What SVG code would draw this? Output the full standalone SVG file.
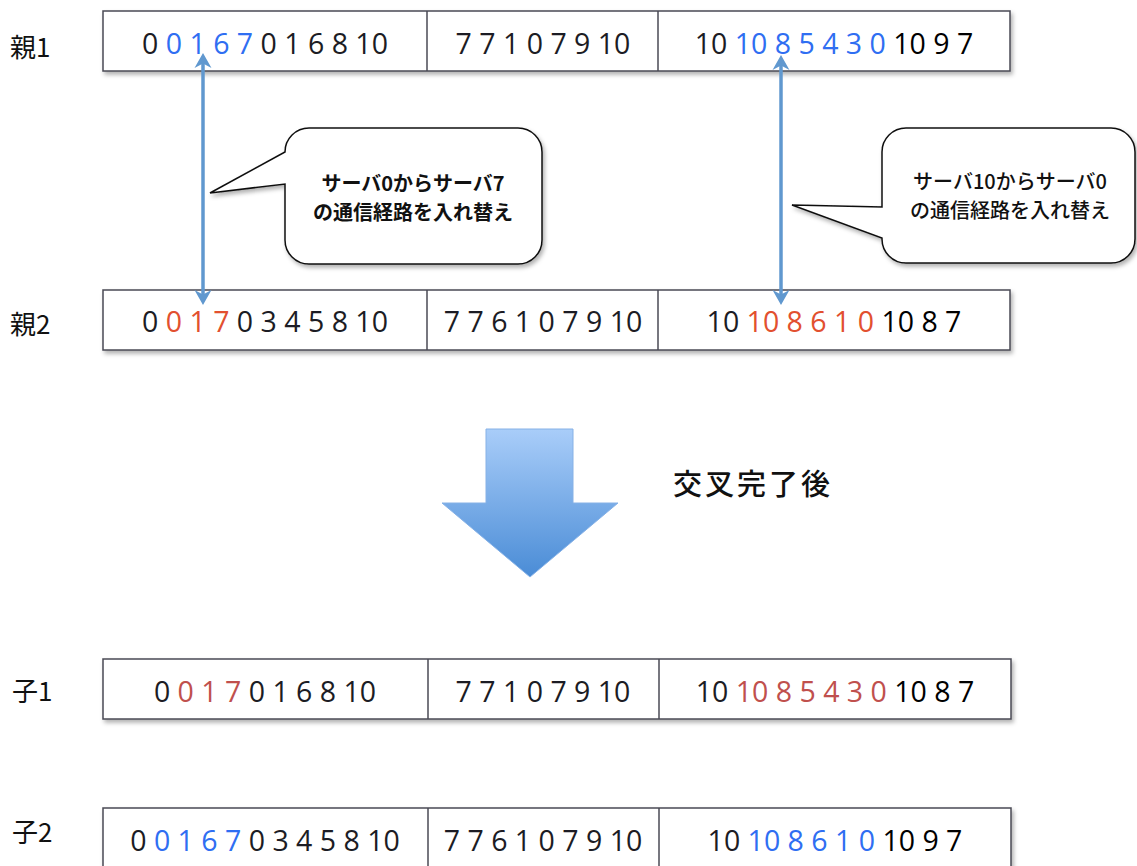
<svg xmlns="http://www.w3.org/2000/svg" width="1137" height="866" viewBox="0 0 1137 866">
  <defs>
    <style>
      .cell { fill: #ffffff; stroke: #4a4a55; stroke-width: 1.5; }
      .div { stroke: #4a4a55; stroke-width: 1.5; }
      .num { font-family: "Open Sans", "Liberation Sans", sans-serif; font-size: 28.5px; fill: #1c1c24; text-anchor: middle; }
      .lbl { font-family: "Noto Sans CJK JP", "Open Sans", sans-serif; font-size: 26px; fill: #111; }
      .b { fill: #2f6ef2; }
      .r { fill: #e2502f; }
      .dr { fill: #c0504d; }
      .k { fill: #000; }
      .bubble { fill: #ffffff; stroke: #111; stroke-width: 1.5; }
      .btxt { font-family: "Noto Sans CJK JP", sans-serif; font-size: 20px; fill: #111; text-anchor: middle; }
      .link { stroke: #6098cf; stroke-width: 3.5; fill: none; }
    </style>
    <filter id="shadow" x="-5%" y="-20%" width="110%" height="150%">
      <feDropShadow dx="2" dy="3" stdDeviation="2" flood-color="#000" flood-opacity="0.3"/>
    </filter>
    <linearGradient id="bigArrowFill" x1="0" y1="0" x2="0" y2="1">
      <stop offset="0" stop-color="#a9cdf9"/>
      <stop offset="1" stop-color="#4a8cd6"/>
    </linearGradient>
    <marker id="head" markerUnits="userSpaceOnUse" markerWidth="16" markerHeight="18" refX="11" refY="8.5" orient="auto-start-reverse" viewBox="0 0 16 17">
      <path d="M0,0 L15,8.5 L0,17 L4.5,8.5 Z" fill="#6098cf"/>
    </marker>
  </defs>

  <!-- row labels -->
  <text class="lbl" x="10" y="57">親1</text>
  <text class="lbl" x="10" y="334">親2</text>
  <text class="lbl" x="12" y="701">子1</text>
  <text class="lbl" x="12" y="842">子2</text>

  <!-- parent 1 -->
  <g id="parent1">
    <rect class="cell" x="103" y="11" width="907" height="60" filter="url(#shadow)"/>
    <line class="div" x1="427" y1="11" x2="427" y2="71"/>
    <line class="div" x1="658" y1="11" x2="658" y2="71"/>
    <text class="num" x="265" y="54">0 <tspan class="b">0 1 6 7</tspan> 0 1 6 8 10</text>
    <text class="num" x="543" y="54">7 7 1 0 7 9 10</text>
    <text class="num" x="834" y="54">10 <tspan class="b">10 8 5 4 3 0</tspan> <tspan class="k">10 9 7</tspan></text>
  </g>

  <!-- parent 2 -->
  <g id="parent2">
    <rect class="cell" x="103" y="290" width="907" height="60" filter="url(#shadow)"/>
    <line class="div" x1="427" y1="290" x2="427" y2="350"/>
    <line class="div" x1="658" y1="290" x2="658" y2="350"/>
    <text class="num" x="265" y="332">0 <tspan class="r">0 1 7</tspan> 0 3 4 5 8 10</text>
    <text class="num" x="543" y="332">7 7 6 1 0 7 9 10</text>
    <text class="num" x="834" y="332">10 <tspan class="r">10 8 6 1 0</tspan> <tspan class="k">10 8 7</tspan></text>
  </g>

  <!-- child 1 -->
  <g id="child1">
    <rect class="cell" x="103" y="659" width="908" height="60" filter="url(#shadow)"/>
    <line class="div" x1="428" y1="659" x2="428" y2="719"/>
    <line class="div" x1="659" y1="659" x2="659" y2="719"/>
    <text class="num" x="265" y="702">0 <tspan class="dr">0 1 7</tspan> 0 1 6 8 10</text>
    <text class="num" x="543" y="702">7 7 1 0 7 9 10</text>
    <text class="num" x="835" y="702">10 <tspan class="dr">10 8 5 4 3 0</tspan> <tspan class="k">10 8 7</tspan></text>
  </g>

  <!-- child 2 -->
  <g id="child2">
    <rect class="cell" x="103" y="808" width="908" height="60" filter="url(#shadow)"/>
    <line class="div" x1="428" y1="808" x2="428" y2="868"/>
    <line class="div" x1="659" y1="808" x2="659" y2="868"/>
    <text class="num" x="265" y="851">0 <tspan class="b">0 1 6 7</tspan> 0 3 4 5 8 10</text>
    <text class="num" x="543" y="851">7 7 6 1 0 7 9 10</text>
    <text class="num" x="835" y="851">10 <tspan class="b">10 8 6 1 0</tspan> <tspan class="k">10 9 7</tspan></text>
  </g>

  <!-- swap connectors between the parents -->
  <g id="connectors">
    <line class="link" x1="203" y1="57" x2="203" y2="301" marker-start="url(#head)" marker-end="url(#head)"/>
    <line class="link" x1="781" y1="59" x2="781" y2="301" marker-start="url(#head)" marker-end="url(#head)"/>
  </g>

  <!-- callouts -->
  <g id="callout1">
    <path class="bubble" filter="url(#shadow)" d="M309,128 H518 A24,24 0 0 1 542,152 V240 A24,24 0 0 1 518,264 H309 A24,24 0 0 1 285,240 V184 L210,193 L285,152 A24,24 0 0 1 309,128 Z"/>
    <text class="btxt" font-weight="bold"><tspan x="413" y="191">サーバ0からサーバ7</tspan><tspan x="413" dy="29">の通信経路を入れ替え</tspan></text>
  </g>
  <g id="callout2">
    <path class="bubble" filter="url(#shadow)" d="M906,128 H1111 A24,24 0 0 1 1135,152 V239 A24,24 0 0 1 1111,263 H906 A24,24 0 0 1 882,239 V238 L792,205 L882,207 V152 A24,24 0 0 1 906,128 Z"/>
    <text class="btxt" font-weight="500"><tspan x="1010" y="189">サーバ10からサーバ0</tspan><tspan x="1010" dy="29">の通信経路を入れ替え</tspan></text>
  </g>

  <!-- crossover step -->
  <g id="crossoverArrow">
    <path d="M486,429 H573 V503 H618 L530,577 L442,503 H486 Z" fill="url(#bigArrowFill)" stroke="#86b1e6" stroke-width="1"/>
  </g>
  <text id="crossoverLabel" x="673" y="495" font-family="Noto Sans CJK JP, sans-serif" font-size="29" font-weight="500" letter-spacing="3" fill="#111">交叉完了後</text>
</svg>
